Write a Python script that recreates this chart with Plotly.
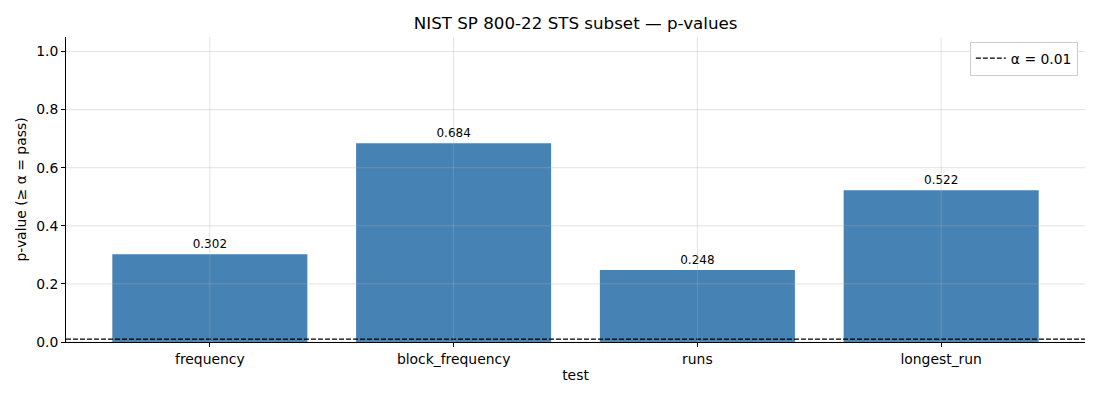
#!/usr/bin/env python3
"""NIST SP 800-22 STS subset: p-value bar chart (Plotly)."""
import plotly.graph_objects as go

TESTS = ["frequency", "block_frequency", "runs", "longest_run"]
P_VALUES = [0.302, 0.684, 0.248, 0.522]
ALPHA = 0.01
Y_TICKS = [0.0, 0.2, 0.4, 0.6, 0.8, 1.0]

BAR = "#4682B4"
GRID = "rgba(176,176,176,0.35)"
FONT = "DejaVu Sans, Arial, sans-serif"
DASH = "5px,2px"

fig = go.Figure()
fig.add_trace(go.Bar(
    x=TESTS, y=P_VALUES, width=0.8,
    marker_color=BAR, marker_line_width=0,
    text=[f"{p:.3f}" for p in P_VALUES],
    textposition="outside", cliponaxis=False,
    textfont=dict(size=12, color="#000"),
    showlegend=False,
))
# legend entry for the alpha threshold line
fig.add_trace(go.Scatter(
    x=[None], y=[None], mode="lines", name=f"α = {ALPHA}",
    line=dict(color="black", width=1.2, dash=DASH),
))
fig.add_hline(y=ALPHA, line=dict(color="black", width=1.2, dash=DASH))

# grid drawn above the bars, like the matplotlib original
for t in TESTS:
    fig.add_vline(x=t, line=dict(color=GRID, width=1), layer="above")
for v in Y_TICKS:
    fig.add_hline(y=v, line=dict(color=GRID, width=1), layer="above")

fig.update_xaxes(
    range=[-0.59, 3.59], showgrid=False, showline=True, linecolor="black",
    linewidth=1, ticks="outside", ticklen=4, tickcolor="black",
    tickfont=dict(size=13.9), title=dict(text="test", font=dict(size=13.9), standoff=4),
)
fig.update_yaxes(
    range=[0, 1.05], tickvals=Y_TICKS, tickformat=".1f", showgrid=False,
    zeroline=False, showline=True, linecolor="black", linewidth=1,
    ticks="outside", ticklen=4, tickcolor="black", tickfont=dict(size=13.9),
    title=dict(text="p-value (≥ α = pass)", font=dict(size=13.9), standoff=6),
)
fig.update_layout(
    title=dict(text="NIST SP 800-22 STS subset — p-values", x=0.516, xanchor="center",
               y=0.9625, yanchor="middle", font=dict(size=16.7, color="#000")),
    font=dict(family=FONT, size=13.9, color="#000"),
    width=1100, height=400,
    margin=dict(l=58, r=23, t=29, b=66),
    plot_bgcolor="white", paper_bgcolor="white",
    legend=dict(x=0.993, y=0.985, xanchor="right", yanchor="top",
                bgcolor="white", bordercolor="#cccccc", borderwidth=1,
                font=dict(size=13.9), tracegroupgap=0),
    bargap=0.2,
)
fig.write_html("out.html")
